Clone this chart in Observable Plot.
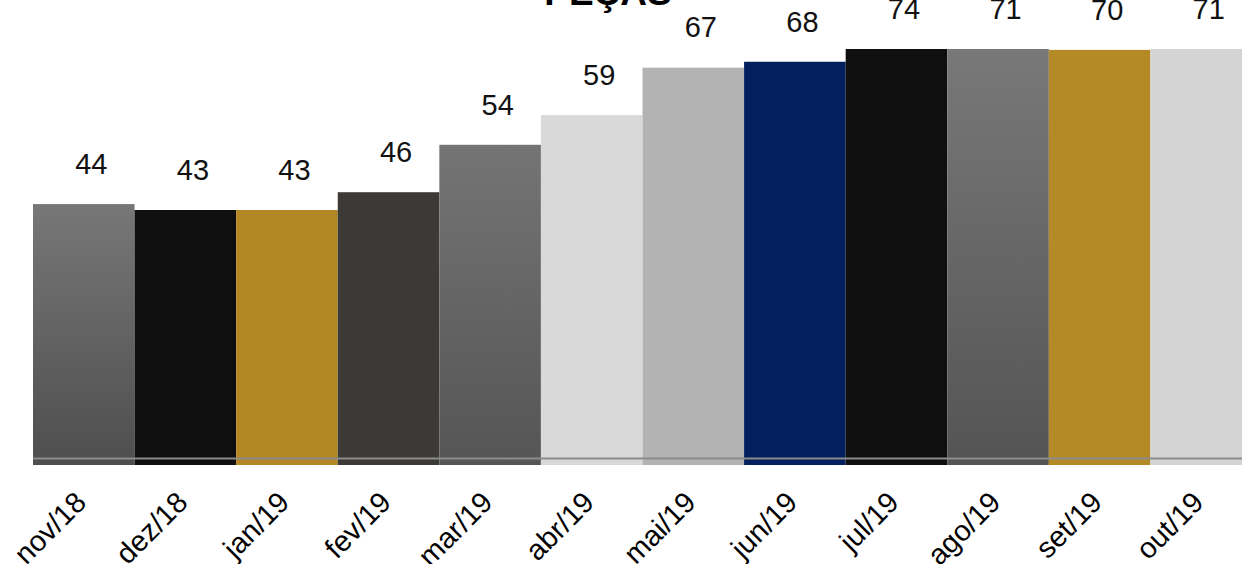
<!DOCTYPE html>
<html><head><meta charset="utf-8">
<script src="https://cdn.jsdelivr.net/npm/d3@7"></script>
<script src="https://cdn.jsdelivr.net/npm/@observablehq/plot@0.6"></script>
<style>body{margin:0;background:#fff;overflow:hidden} svg{display:block}</style>
</head><body><div id="chart"></div>
<script>
const title = "PEÇAS";
const months = ["nov/18","dez/18","jan/19","fev/19","mar/19","abr/19","mai/19","jun/19","jul/19","ago/19","set/19","out/19"];
const values = [44,43,43,46,54,59,67,68,74,71,70,71];
const barFills = ["url(#gA)","#0f0f0f","#b38723","#3c3a37","url(#gB)","#d9d9d9","#b3b3b3","#03205e","#0f0f0f","url(#gC)","#b38a26","#d4d4d4"];
const gradients = [["gA","#777777","#4e4e4e"],["gB","#747474","#555555"],["gC","#787878","#545454"]];

const data = months.map((m, i) => ({month: m, value: values[i], fill: barFills[i]}));

const defsMark = () => {
  const g = d3.create("svg:g");
  const defs = g.append("defs");
  for (const [id, c1, c2] of gradients) {
    const lg = defs.append("linearGradient").attr("id", id).attr("x1", 0).attr("y1", 0).attr("x2", 0).attr("y2", 1);
    lg.append("stop").attr("offset", "0%").attr("stop-color", c1);
    lg.append("stop").attr("offset", "100%").attr("stop-color", c2);
  }
  return g.node();
};

const chart = Plot.plot({
  width: 1242,
  height: 564,
  marginTop: 49,
  marginBottom: 99,
  marginLeft: 33,
  marginRight: 0,
  style: {fontFamily: "'Liberation Sans', Arial, sans-serif", background: "#fff", overflow: "visible"},
  x: {domain: months, padding: 0, range: [33, 1252], round: false, axis: null},
  y: {domain: [0, 70.15], clamp: true, axis: null},
  marks: [
    defsMark,
    Plot.barY(data, {x: "month", y: "value", fill: "fill", insetLeft: 0, insetRight: 0}),
    Plot.ruleY([0], {stroke: "#8c8c8c", strokeWidth: 2, dy: -7}),
    Plot.text(data, {x: "month", y: "value", text: d => String(d.value), dy: -40, dx: 7, fontSize: 29, fill: "#111"}),
    Plot.axisX({tickRotate: -45, tickSize: 0, tickPadding: 10, fontSize: 29, fill: "#000", label: null, dy: 22, dx: -3}),
    Plot.text([title], {frameAnchor: "top", lineAnchor: "bottom", dy: -45, dx: -30, fontSize: 37, fontWeight: "bold", fill: "#000"})
  ]
});
document.getElementById("chart").append(chart);
</script>
</body></html>
